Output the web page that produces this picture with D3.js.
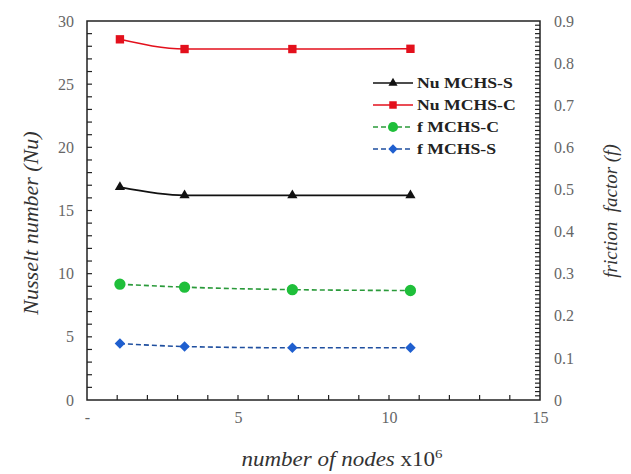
<!DOCTYPE html>
<html><head><meta charset="utf-8">
<script src="https://cdn.jsdelivr.net/npm/d3@7"></script>
<style>body{margin:0;background:#fff}</style>
</head><body>
<svg id="c" width="631" height="474"></svg>
<script>
const nodes = [1.09, 3.23, 6.8, 10.71];
const nuS = [16.85, 16.2, 16.2, 16.2];
const nuC = [28.55, 27.78, 27.78, 27.8];
const fC = [0.275, 0.268, 0.262, 0.26];
const fS = [0.134, 0.127, 0.124, 0.124];
const xTicks = [0, 5, 10, 15];
const xTickLabels = ["-", "5", "10", "15"];
const yLeftTicks = [0, 5, 10, 15, 20, 25, 30];
const yRightTicks = [0, 0.1, 0.2, 0.3, 0.4, 0.5, 0.6, 0.7, 0.8, 0.9];
const legendLabels = ["Nu MCHS-S", "Nu MCHS-C", "f MCHS-C", "f MCHS-S"];

const svg = d3.select("#c");
const L = 87, R = 540, T = 21, B = 400;
const x = d3.scaleLinear().domain([0, 15]).range([L, R]);
const yL = d3.scaleLinear().domain([0, 30]).range([B, T]);
const yR = d3.scaleLinear().domain([0, 0.9]).range([B, T]);
const serif = "'Liberation Serif','Times New Roman',serif";
const tickCol = "#666";

// frame
svg.append("rect").attr("x", L).attr("y", T).attr("width", R - L).attr("height", B - T)
  .attr("fill", "none").attr("stroke", "#222").attr("stroke-width", 1.5);

// minor ticks
const g = svg.append("g").attr("stroke", "#222").attr("stroke-width", 1.2);
d3.range(1, 30).forEach(v => g.append("line").attr("x1", L).attr("x2", L + 5).attr("y1", yL(v)).attr("y2", yL(v)));
d3.range(1, 15).forEach(v => g.append("line").attr("x1", x(v)).attr("x2", x(v)).attr("y1", B).attr("y2", B - 5));
d3.range(1, 90).forEach(v => g.append("line").attr("x1", R).attr("x2", R - 5).attr("y1", yR(v / 100)).attr("y2", yR(v / 100)));

// axes (labels only, built with d3 axes)
const axL = d3.axisLeft(yL).tickValues(yLeftTicks).tickSize(0).tickPadding(13).tickFormat(d3.format("d"));
const gL = svg.append("g").attr("transform", `translate(${L},0)`).call(axL);
const axR = d3.axisRight(yR).tickValues(yRightTicks).tickSize(0).tickPadding(14).tickFormat(d => d === 0 ? "0" : d3.format(".1f")(d));
const gR = svg.append("g").attr("transform", `translate(${R},0)`).call(axR);
const axB = d3.axisBottom(x).tickValues(xTicks).tickSize(0).tickPadding(12).tickFormat((d, i) => xTickLabels[i]);
const gB = svg.append("g").attr("transform", `translate(0,${B})`).call(axB);
[gL, gR, gB].forEach(a => {
  a.select(".domain").remove();
  a.selectAll("text").attr("font-family", serif).attr("font-size", 16).attr("fill", tickCol);
});

// titles
svg.append("text").attr("transform", `translate(38,223) rotate(-90)`).attr("text-anchor", "middle")
  .attr("font-family", serif).attr("font-style", "italic").attr("font-size", 22).attr("fill", "#333")
  .text("Nusselt number (Nu)");
svg.append("text").attr("transform", `translate(617,211) rotate(-90)`).attr("text-anchor", "middle")
  .attr("font-family", serif).attr("font-style", "italic").attr("font-size", 19).attr("fill", "#333")
  .attr("xml:space", "preserve").text("friction  factor (f)");
const xt = svg.append("text").attr("transform", "translate(342,466) scale(1.15,1)").attr("text-anchor", "middle")
  .attr("font-family", serif).attr("font-size", 20).attr("fill", "#333");
xt.append("tspan").attr("font-style", "italic").text("number of nodes ");
xt.append("tspan").text("x10");
xt.append("tspan").attr("font-size", 13).attr("dy", -8).text("6");

// series
const series = [
  {vals: nuS, y: yL, color: "#111", dash: null, sym: d3.symbolTriangle, size: 45, rot: 0},
  {vals: nuC, y: yL, color: "#e3101c", dash: null, sym: d3.symbolSquare, size: 70, rot: 0},
  {vals: fC, y: yR, color: "#1fbf3a", dash: "5,3", sym: d3.symbolCircle, size: 100, rot: 0, lineColor: "#2a9a3a"},
  {vals: fS, y: yR, color: "#1f5fcf", dash: "5,3", sym: d3.symbolSquare, size: 55, rot: 45, lineColor: "#1f4f9f"},
];
series.forEach(s => {
  const line = d3.line().x((d, i) => x(nodes[i])).y(d => s.y(d)).curve(d3.curveMonotoneX);
  svg.append("path").attr("d", line(s.vals)).attr("fill", "none")
    .attr("stroke", s.lineColor || s.color).attr("stroke-width", 1.6)
    .attr("stroke-dasharray", s.dash);
  svg.selectAll(null).data(s.vals).enter().append("path")
    .attr("d", d3.symbol().type(s.sym).size(s.size))
    .attr("transform", (d, i) => `translate(${x(nodes[i])},${s.y(d)}) rotate(${s.rot})`)
    .attr("fill", s.color);
});

// legend
const lg = svg.append("g");
series.forEach((s, i) => {
  const yy = 83 + i * 22;
  lg.append("line").attr("x1", 373).attr("x2", 413).attr("y1", yy).attr("y2", yy)
    .attr("stroke", s.lineColor || s.color).attr("stroke-width", 1.6).attr("stroke-dasharray", s.dash);
  lg.append("path").attr("d", d3.symbol().type(s.sym).size(s.size * 0.8))
    .attr("transform", `translate(393,${yy}) rotate(${s.rot})`).attr("fill", s.color);
  lg.append("text").attr("transform", `translate(417,${yy + 5}) scale(1.18,1)`).attr("font-family", serif).attr("font-weight", "bold")
    .attr("font-size", 15).attr("fill", "#222").text(legendLabels[i]);
});
</script>
</body></html>
